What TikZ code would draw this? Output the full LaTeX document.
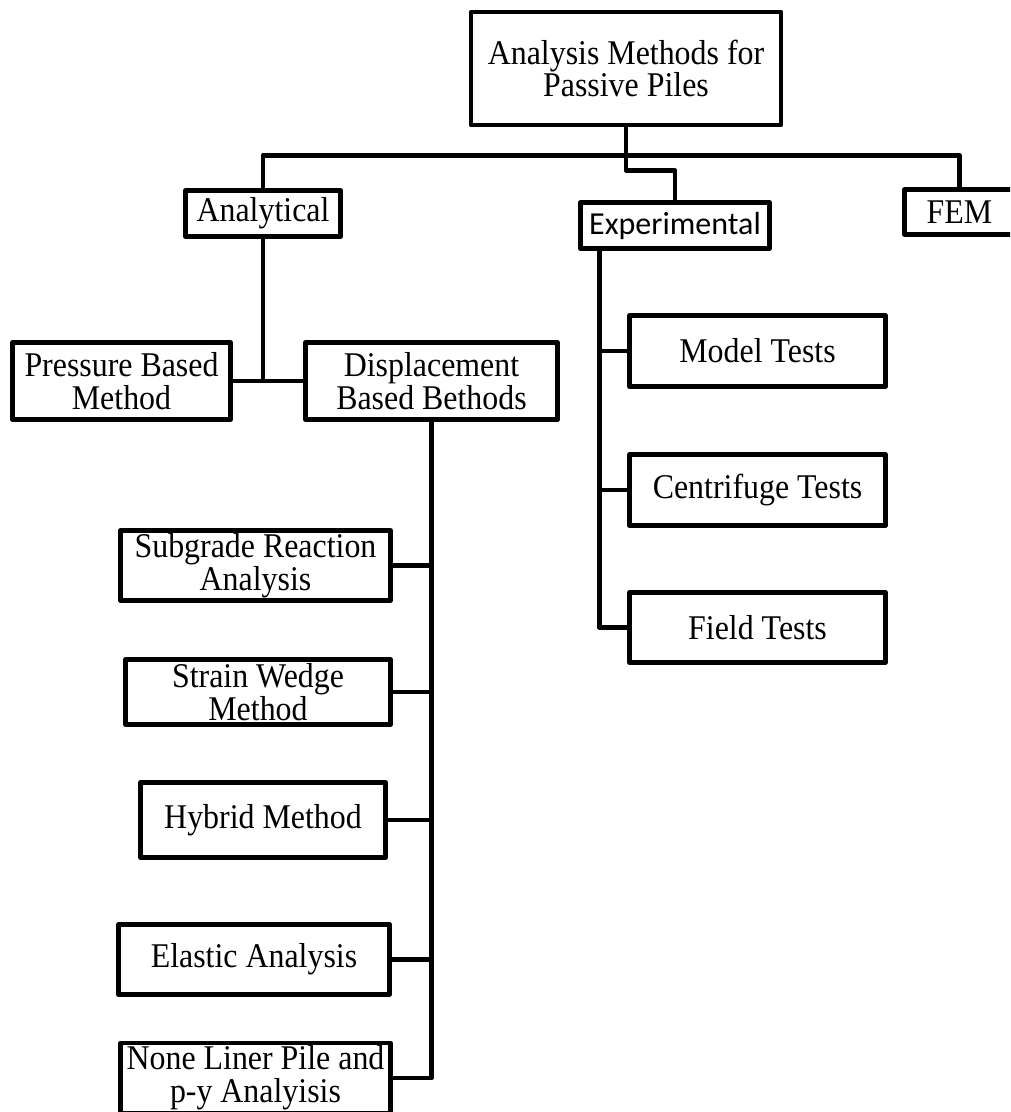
\documentclass[tikz,border=0pt]{standalone}
\usepackage{fontspec}
\setmainfont{Liberation Serif}[FakeStretch=0.92]
\newfontfamily\calibrifont{Carlito}

\tikzset{
  box/.style={draw,rectangle,inner sep=0pt,align=center,
    font=\fontsize{26}{24.5}\selectfont}
}

\begin{document}
\begin{tikzpicture}[x=0.75pt,y=-0.75pt,line width=3.6pt,line join=round]
  \useasboundingbox[fill=white] (0,0) rectangle (1010,1112);
  \clip (0,0) rectangle (1010,1112);
  % root and first level
  \node[box,minimum width=232.5pt,minimum height=84.75pt] (top) at (626,68.5) {Analysis Methods for\\Passive Piles};
  \node[box,minimum width=116.25pt,minimum height=34.5pt] (anal) at (263,213.5) {Analytical};
  \node[box,minimum width=141.75pt,minimum height=34.5pt,font=\calibrifont\fontsize{24}{25}\selectfont] (expt) at (675,225.5) {Experimental};
  \node[box,minimum width=82.5pt,minimum height=33.75pt] (fem) at (959.5,212) {FEM};
  % analytical branch
  \node[box,minimum width=163.5pt,minimum height=57.75pt] (press) at (121.5,381) {Pressure Based\\Method};
  \node[box,minimum width=189pt,minimum height=57.75pt] (disp) at (431.5,381) {Displacement\\Based Bethods};
  \node[box,minimum width=202.5pt,minimum height=52.5pt] (subg) at (255.5,565.5) {Subgrade Reaction\\Analysis};
  \node[box,minimum width=198.75pt,minimum height=48.75pt] (wedge) at (258,692) {Strain Wedge\\Method};
  \node[box,minimum width=183.75pt,minimum height=56.25pt] (hybrid) at (263,820) {Hybrid Method};
  \node[box,minimum width=203.25pt,minimum height=52.5pt] (elastic) at (254,959.5) {Elastic Analysis};
  \node[box,minimum width=202.5pt,minimum height=52.5pt] (nonlin) at (255.5,1078) {None Liner Pile and\\p-y Analyisis};
  % experimental branch
  \node[box,minimum width=192pt,minimum height=53.25pt] (model) at (757.5,351) {Model Tests};
  \node[box,minimum width=192pt,minimum height=53.25pt] (centri) at (757.5,490) {Centrifuge Tests};
  \node[box,minimum width=192pt,minimum height=52.5pt] (field) at (757.5,627.5) {Field Tests};

  \coordinate (bus) at (626,155.5);
  \coordinate (jog) at (626,170.5);
  \coordinate (exleg) at (599.5,248.5);

  \draw (top.south) -- (jog) -| (expt.north);
  \draw (anal.north) |- (bus) -| (fem.north);
  \draw (anal.south) -- (anal.south |- press.east);
  \draw (press.east) -- (disp.west);
  \draw (disp.south) |- (nonlin.east);
  \foreach \n in {subg,wedge,hybrid,elastic}
    \draw (\n.east) -- (\n.east -| disp.south);
  \draw (exleg) |- (field.west);
  \foreach \n in {model,centri}
    \draw (\n.west) -- (\n.west -| exleg);
\end{tikzpicture}
\end{document}
